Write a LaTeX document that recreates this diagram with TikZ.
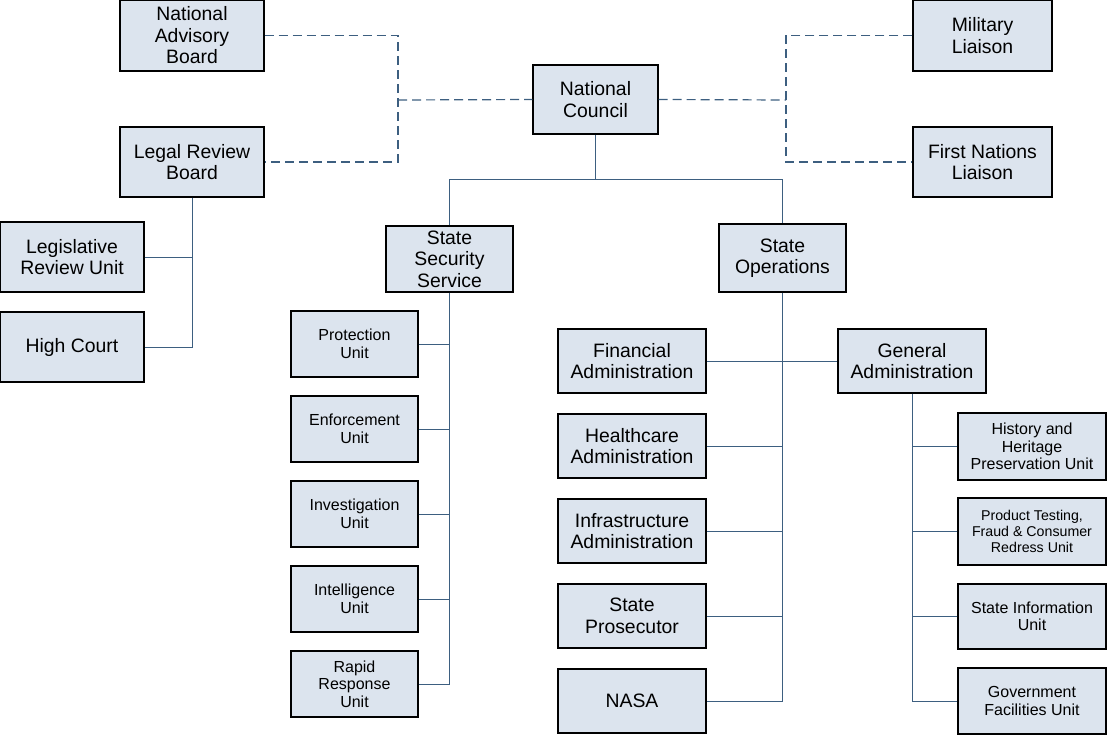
\documentclass[tikz,border=0pt]{standalone}
\usepackage{fontspec}
\setmainfont{Liberation Sans}
\begin{document}
\begin{tikzpicture}[x=1pt,y=-1pt,
  box/.style={draw=black,line width=1.1pt,fill=boxfill,align=center,inner sep=0pt},
  big/.style={font=\fontsize{19.4}{21.5}\selectfont},
  med/.style={font=\fontsize{16}{17.5}\selectfont},
  sml/.style={font=\fontsize{14.2}{16}\selectfont},
  link/.style={draw=linkc,line width=1pt},
  dlink/.style={draw=linkc,line width=1.2pt,dash pattern=on 9pt off 5pt}]
\definecolor{boxfill}{HTML}{DCE4EE}
\definecolor{linkc}{HTML}{3D5F80}
\useasboundingbox (0,0) rectangle (1107,735);
% top level
\node[box,big,minimum width=144,minimum height=71] (nab) at (192,35.5) {National\\Advisory\\Board};
\node[box,big,minimum width=144,minimum height=70] (lrb) at (192,162) {Legal Review\\Board};
\node[box,big,minimum width=125,minimum height=69] (nc) at (595.5,99.5) {National\\Council};
\node[box,big,minimum width=139,minimum height=71] (ml) at (982.5,35.5) {Military\\Liaison};
\node[box,big,minimum width=139,minimum height=70] (fnl) at (982.5,162) {First Nations\\Liaison};
\node[box,big,minimum width=144,minimum height=70] (lru) at (72,257) {Legislative\\Review Unit};
\node[box,big,minimum width=144,minimum height=70] (hc) at (72,347) {High Court};
\node[box,big,minimum width=127,minimum height=66] (sss) at (449.5,259) {State\\Security\\Service};
\node[box,big,minimum width=127,minimum height=68] (so) at (782.5,258) {State\\Operations};
% security units
\node[box,med,minimum width=127,minimum height=66] (pu) at (354.5,344) {Protection\\Unit};
\node[box,med,minimum width=127,minimum height=66] (eu) at (354.5,429) {Enforcement\\Unit};
\node[box,med,minimum width=127,minimum height=66] (iu) at (354.5,514) {Investigation\\Unit};
\node[box,med,minimum width=127,minimum height=66] (itu) at (354.5,599) {Intelligence\\Unit};
\node[box,med,minimum width=127,minimum height=66] (rru) at (354.5,684) {Rapid\\Response\\Unit};
% administrations
\node[box,big,minimum width=148,minimum height=64] (fa) at (632,361) {Financial\\Administration};
\node[box,big,minimum width=148,minimum height=64] (ha) at (632,446) {Healthcare\\Administration};
\node[box,big,minimum width=148,minimum height=64] (ia) at (632,531) {Infrastructure\\Administration};
\node[box,big,minimum width=148,minimum height=64] (sp) at (632,616) {State\\Prosecutor};
\node[box,big,minimum width=148,minimum height=64] (nasa) at (632,701) {NASA};
\node[box,big,minimum width=148,minimum height=64] (ga) at (912,361) {General\\Administration};
% general admin units
\node[box,med,minimum width=148,minimum height=67] (hh) at (1032,446.5) {History and\\Heritage\\Preservation Unit};
\node[box,sml,minimum width=148,minimum height=67] (pt) at (1032,531.5) {Product Testing,\\Fraud \& Consumer\\Redress Unit};
\node[box,med,minimum width=148,minimum height=65] (siu) at (1032,616.5) {State Information\\Unit};
\node[box,med,minimum width=148,minimum height=66] (gfu) at (1032,701) {Government\\Facilities Unit};
% coordinates
\coordinate (dl) at (398,100);
\coordinate (dr) at (786,100);
\coordinate (nct) at (595.5,180);
% dashed links
\draw[dlink] (nab.east) -- (nab.east -| dl) -- (lrb.east -| dl) -- (lrb.east);
\draw[dlink] (dl) -- (nc.west);
\draw[dlink] (ml.west) -- (ml.west -| dr) -- (fnl.west -| dr) -- (fnl.west);
\draw[dlink] (nc.east) -- (dr);
% legal board
\draw[link] (lrb.south) -- (lrb.south |- hc.east) -- (hc.east);
\draw[link] (lru.east) -- (lru.east -| lrb.south);
% council to branches
\draw[link] (nc.south) -- (nct);
\draw[link] (sss.north) -- (sss.north |- nct) -- (so.north |- nct) -- (so.north);
% security
\draw[link] (sss.south) -- (sss.south |- rru.east) -- (rru.east);
\foreach \n in {pu,eu,iu,itu} \draw[link] (\n.east) -- (\n.east -| sss.south);
% operations
\draw[link] (so.south) -- (so.south |- nasa.east) -- (nasa.east);
\draw[link] (fa.east) -- (ga.west);
\foreach \n in {ha,ia,sp} \draw[link] (\n.east) -- (\n.east -| so.south);
% general admin
\draw[link] (ga.south) -- (ga.south |- gfu.west) -- (gfu.west);
\foreach \n in {hh,pt,siu} \draw[link] (\n.west) -- (\n.west -| ga.south);
\end{tikzpicture}
\end{document}
